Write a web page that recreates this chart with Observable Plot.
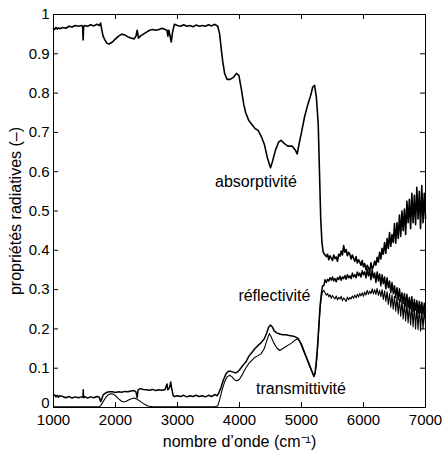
<!DOCTYPE html>
<html>
<head>
<meta charset="utf-8">
<script src="https://cdn.jsdelivr.net/npm/d3@7"></script>
<script src="https://cdn.jsdelivr.net/npm/@observablehq/plot@0.6"></script>
<style>
  html, body { margin: 0; padding: 0; background: white; }
</style>
</head>
<body>
<div id="chart"></div>
<script>
// wavenumber (cm-1), value
const absorptivite = [
  [1000,0.965],[1020,0.962],[1040,0.967],[1060,0.963],[1080,0.966],[1100,0.964],[1150,0.967],[1200,0.965],
  [1250,0.970],[1300,0.968],[1350,0.972],[1400,0.970],[1450,0.972],[1470,0.970],[1478,0.935],[1485,0.968],
  [1500,0.972],[1550,0.970],[1600,0.974],[1650,0.971],[1700,0.975],[1740,0.972],[1760,0.978],[1780,0.960],
  [1800,0.945],[1830,0.935],[1860,0.927],[1900,0.925],[1950,0.930],[2000,0.938],[2050,0.945],[2100,0.950],
  [2150,0.948],[2200,0.943],[2250,0.940],[2300,0.938],[2330,0.945],[2350,0.960],[2370,0.940],[2400,0.945],
  [2450,0.950],[2500,0.955],[2550,0.960],[2600,0.962],[2650,0.960],[2700,0.962],[2750,0.965],[2800,0.962],
  [2830,0.960],[2845,0.945],[2860,0.960],[2900,0.930],[2920,0.955],[2950,0.975],[3000,0.972],[3050,0.970],
  [3100,0.974],[3150,0.970],[3200,0.972],[3250,0.969],[3300,0.973],[3350,0.970],[3400,0.972],[3450,0.970],
  [3500,0.974],[3550,0.971],[3600,0.975],[3630,0.972],[3650,0.970],[3680,0.950],[3700,0.920],[3730,0.880],
  [3760,0.850],[3800,0.835],[3850,0.835],[3900,0.840],[3950,0.850],[3990,0.845],[4030,0.810],[4070,0.770],
  [4100,0.750],[4150,0.730],[4200,0.720],[4250,0.710],[4300,0.705],[4350,0.690],[4400,0.670],[4450,0.635],
  [4500,0.610],[4530,0.625],[4580,0.655],[4630,0.675],[4670,0.680],[4720,0.672],[4780,0.665],[4850,0.665],
  [4900,0.655],[4930,0.645],[4960,0.670],[5000,0.700],[5050,0.740],[5100,0.770],[5150,0.795],[5180,0.815],
  [5210,0.820],[5240,0.790],[5270,0.720],[5290,0.600],[5310,0.480],[5330,0.420],[5350,0.395],[5380,0.388],
  [5400,0.384],[5420,0.390],[5440,0.376],[5460,0.386],[5480,0.380],[5500,0.374],[5520,0.388],[5540,0.379],
  [5560,0.383],[5580,0.372],[5600,0.390],[5620,0.385],[5640,0.398],[5660,0.388],[5680,0.412],[5700,0.395],
  [5720,0.402],[5740,0.386],[5760,0.395],[5780,0.390],[5800,0.378],[5820,0.388],[5840,0.380],[5860,0.372],
  [5880,0.384],[5900,0.368],[5920,0.376],[5940,0.370],[5960,0.362],[5980,0.374],[6000,0.358],[6020,0.366],
  [6040,0.350],[6060,0.362],[6080,0.355],[6100,0.345],[6120,0.368],[6140,0.352],[6160,0.360],[6180,0.372],
  [6200,0.362],[6220,0.382],[6240,0.370],[6260,0.395],[6280,0.378],[6300,0.405],[6320,0.390],[6340,0.420],
  [6360,0.392],[6380,0.430],[6400,0.405],[6420,0.445],[6440,0.410],[6460,0.440],[6480,0.420],[6500,0.468],
  [6520,0.418],[6540,0.470],[6560,0.430],[6580,0.490],[6600,0.435],[6620,0.500],[6640,0.450],[6660,0.505],
  [6680,0.440],[6700,0.525],[6720,0.470],[6740,0.530],[6760,0.455],[6780,0.545],[6800,0.470],[6820,0.540],
  [6840,0.465],[6860,0.560],[6880,0.480],[6900,0.550],[6920,0.455],[6940,0.565],[6960,0.470],[6980,0.545],
  [7000,0.480]
];

const reflectivite = [
  [1000,0.030],[1020,0.032],[1040,0.027],[1060,0.031],[1080,0.026],[1100,0.030],[1150,0.028],[1200,0.025],
  [1250,0.028],[1300,0.024],[1350,0.027],[1400,0.025],[1450,0.027],[1475,0.026],[1480,0.045],[1485,0.025],
  [1500,0.028],[1550,0.024],[1600,0.027],[1650,0.025],[1700,0.028],[1740,0.026],[1760,0.015],[1780,0.022],
  [1800,0.032],[1850,0.038],[1900,0.040],[1950,0.040],[2000,0.038],[2050,0.040],[2100,0.039],[2150,0.041],
  [2200,0.040],[2250,0.042],[2300,0.043],[2330,0.040],[2350,0.025],[2365,0.045],[2400,0.048],[2450,0.046],
  [2500,0.045],[2550,0.044],[2600,0.046],[2650,0.043],[2700,0.045],[2750,0.044],[2800,0.046],[2830,0.060],
  [2845,0.045],[2870,0.050],[2890,0.065],[2905,0.050],[2930,0.030],[2950,0.028],[3000,0.030],[3050,0.028],
  [3100,0.031],[3150,0.027],[3200,0.030],[3250,0.028],[3300,0.031],[3350,0.028],[3400,0.030],[3450,0.027],
  [3500,0.031],[3550,0.028],[3600,0.033],[3640,0.030],[3660,0.035],[3700,0.050],[3740,0.070],[3780,0.085],
  [3820,0.092],[3860,0.092],[3900,0.090],[3940,0.088],[3980,0.092],[4020,0.100],[4060,0.108],[4100,0.115],
  [4150,0.130],[4200,0.140],[4250,0.150],[4300,0.158],[4350,0.165],[4400,0.175],[4440,0.190],[4470,0.205],
  [4500,0.210],[4530,0.205],[4560,0.195],[4600,0.190],[4650,0.187],[4700,0.185],[4750,0.185],[4800,0.183],
  [4850,0.182],[4900,0.180],[4950,0.175],[5000,0.160],[5050,0.140],[5100,0.120],[5150,0.100],[5180,0.088],
  [5200,0.080],[5220,0.090],[5240,0.120],[5260,0.160],[5280,0.210],[5300,0.260],[5320,0.290],[5340,0.310],
  [5360,0.310],[5380,0.325],[5400,0.318],[5420,0.326],[5440,0.322],[5460,0.330],[5480,0.324],[5500,0.332],
  [5520,0.322],[5540,0.328],[5560,0.320],[5580,0.330],[5600,0.326],[5620,0.334],[5640,0.324],[5660,0.332],
  [5680,0.328],[5700,0.336],[5720,0.326],[5740,0.338],[5760,0.330],[5780,0.335],[5800,0.328],[5820,0.342],
  [5840,0.332],[5860,0.338],[5880,0.330],[5900,0.345],[5920,0.335],[5940,0.342],[5960,0.332],[5980,0.348],
  [6000,0.338],[6020,0.345],[6040,0.330],[6060,0.352],[6080,0.335],[6100,0.348],[6120,0.325],[6140,0.350],
  [6160,0.330],[6180,0.342],[6200,0.318],[6220,0.345],[6240,0.322],[6260,0.340],[6280,0.310],[6300,0.338],
  [6320,0.315],[6340,0.332],[6360,0.302],[6380,0.330],[6400,0.305],[6420,0.322],[6440,0.292],[6460,0.318],
  [6480,0.290],[6500,0.310],[6520,0.280],[6540,0.305],[6560,0.275],[6580,0.302],[6600,0.270],[6620,0.292],
  [6640,0.265],[6660,0.290],[6680,0.258],[6700,0.288],[6720,0.255],[6740,0.280],[6760,0.252],[6780,0.282],
  [6800,0.245],[6820,0.275],[6840,0.248],[6860,0.272],[6880,0.240],[6900,0.270],[6920,0.242],[6940,0.268],
  [6960,0.238],[6980,0.265],[7000,0.248]
];

const transmittivite = [
  [1000,0.002],[1200,0.002],[1400,0.002],[1600,0.002],[1740,0.002],[1760,0.004],[1800,0.015],[1840,0.025],
  [1880,0.032],[1920,0.035],[1960,0.034],[2000,0.030],[2050,0.022],[2100,0.016],[2130,0.014],[2170,0.016],
  [2220,0.020],[2270,0.023],[2300,0.024],[2340,0.022],[2380,0.018],[2420,0.013],[2470,0.008],[2520,0.004],
  [2600,0.002],[3000,0.002],[3400,0.002],[3600,0.002],[3650,0.004],[3680,0.020],[3720,0.045],[3760,0.065],
  [3800,0.078],[3840,0.082],[3880,0.078],[3920,0.070],[3960,0.068],[4000,0.072],[4050,0.085],[4100,0.100],
  [4150,0.112],[4200,0.120],[4250,0.128],[4300,0.132],[4350,0.137],[4400,0.150],[4440,0.170],[4480,0.188],
  [4510,0.180],[4550,0.165],[4600,0.152],[4650,0.145],[4700,0.150],[4750,0.155],[4800,0.160],[4850,0.165],
  [4900,0.172],[4940,0.175],[4980,0.165],[5030,0.145],[5080,0.125],[5130,0.105],[5170,0.090],[5200,0.078],
  [5220,0.085],[5240,0.110],[5260,0.150],[5280,0.200],[5300,0.250],[5320,0.280],[5340,0.295],[5360,0.298],
  [5380,0.292],[5400,0.286],[5420,0.290],[5440,0.282],[5460,0.287],[5480,0.278],[5500,0.285],[5520,0.280],
  [5540,0.276],[5560,0.284],[5580,0.274],[5600,0.280],[5620,0.276],[5640,0.283],[5660,0.272],[5680,0.279],
  [5700,0.275],[5720,0.270],[5740,0.281],[5760,0.274],[5780,0.280],[5800,0.276],[5820,0.284],[5840,0.278],
  [5860,0.286],[5880,0.279],[5900,0.288],[5920,0.281],[5940,0.290],[5960,0.284],[5980,0.292],[6000,0.283],
  [6020,0.294],[6040,0.286],[6060,0.298],[6080,0.288],[6100,0.296],[6120,0.290],[6140,0.302],[6160,0.289],
  [6180,0.300],[6200,0.288],[6220,0.303],[6240,0.285],[6260,0.298],[6280,0.282],[6300,0.300],[6320,0.275],
  [6340,0.297],[6360,0.270],[6380,0.295],[6400,0.262],[6420,0.290],[6440,0.255],[6460,0.287],[6480,0.250],
  [6500,0.283],[6520,0.245],[6540,0.280],[6560,0.238],[6580,0.275],[6600,0.232],[6620,0.272],[6640,0.225],
  [6660,0.268],[6680,0.220],[6700,0.265],[6720,0.215],[6740,0.262],[6760,0.210],[6780,0.260],[6800,0.205],
  [6820,0.258],[6840,0.200],[6860,0.255],[6880,0.198],[6900,0.255],[6920,0.195],[6940,0.250],[6960,0.200],
  [6980,0.250],[7000,0.210]
];

const xTicks = [1000, 2000, 3000, 4000, 5000, 6000, 7000];
const yTicks = [0, 0.1, 0.2, 0.3, 0.4, 0.5, 0.6, 0.7, 0.8, 0.9, 1];
const seriesLabels = [
  {text: "absorptivité", x: 4265, y: 0.573},
  {text: "réflectivité", x: 4563, y: 0.285},
  {text: "transmittivité", x: 4990, y: 0.048}
];
const xLabel = "nombre d’onde (cm⁻¹)";
const yLabel = "propriétés radiatives (–)";

const W = 444, H = 454;
const mL = 53, mR = 19, mT = 14, mB = 47;
const innerW = W - mL - mR, innerH = H - mT - mB;
const tick = 5;

const chart = Plot.plot({
  width: W,
  height: H,
  marginLeft: mL,
  marginRight: mR,
  marginTop: mT,
  marginBottom: mB,
  style: {fontFamily: "'Liberation Sans', Arial, Helvetica, sans-serif", fontSize: "15px", background: "white", color: "black"},
  x: {domain: [1000, 7000]},
  y: {domain: [0, 1]},
  marks: [
    Plot.line(transmittivite, {x: d => d[0], y: d => d[1], stroke: "black", strokeWidth: 1.1}),
    Plot.line(reflectivite, {x: d => d[0], y: d => d[1], stroke: "black", strokeWidth: 1.5}),
    Plot.line(absorptivite, {x: d => d[0], y: d => d[1], stroke: "black", strokeWidth: 1.6}),
    Plot.frame({stroke: "black", strokeWidth: 1}),
    Plot.tickX(xTicks, {x: d => d, insetTop: innerH - tick, stroke: "black"}),
    Plot.tickX(xTicks, {x: d => d, insetBottom: innerH - tick, stroke: "black"}),
    Plot.tickY(yTicks, {y: d => d, insetRight: innerW - tick, stroke: "black"}),
    Plot.tickY(yTicks, {y: d => d, insetLeft: innerW - tick, stroke: "black"}),
    Plot.axisX(xTicks, {tickSize: 0, tickPadding: 7, label: null, fontSize: 15, tickFormat: d3.format("d")}),
    Plot.axisY(yTicks.filter(d => d > 0), {tickSize: 0, tickPadding: 4, label: null, fontSize: 15, tickFormat: d3.format("~g")}),
    Plot.axisY(yTicks.filter(d => d === 0), {tickSize: 0, tickPadding: 4, label: null, fontSize: 15, dy: -4, tickFormat: d3.format("~g")}),
    Plot.text(seriesLabels, {x: "x", y: "y", text: "text", fontSize: 16, textAnchor: "middle", lineAnchor: "middle", fill: "black"}),
    Plot.text([xLabel], {frameAnchor: "bottom", dy: 39, fontSize: 16, fill: "black", textAnchor: "middle", lineAnchor: "bottom"}),
    Plot.text([yLabel], {frameAnchor: "left", dx: -38, rotate: -90, fontSize: 16, fill: "black", textAnchor: "middle", lineAnchor: "middle"})
  ]
});
document.getElementById("chart").appendChild(chart);
</script>
</body>
</html>
